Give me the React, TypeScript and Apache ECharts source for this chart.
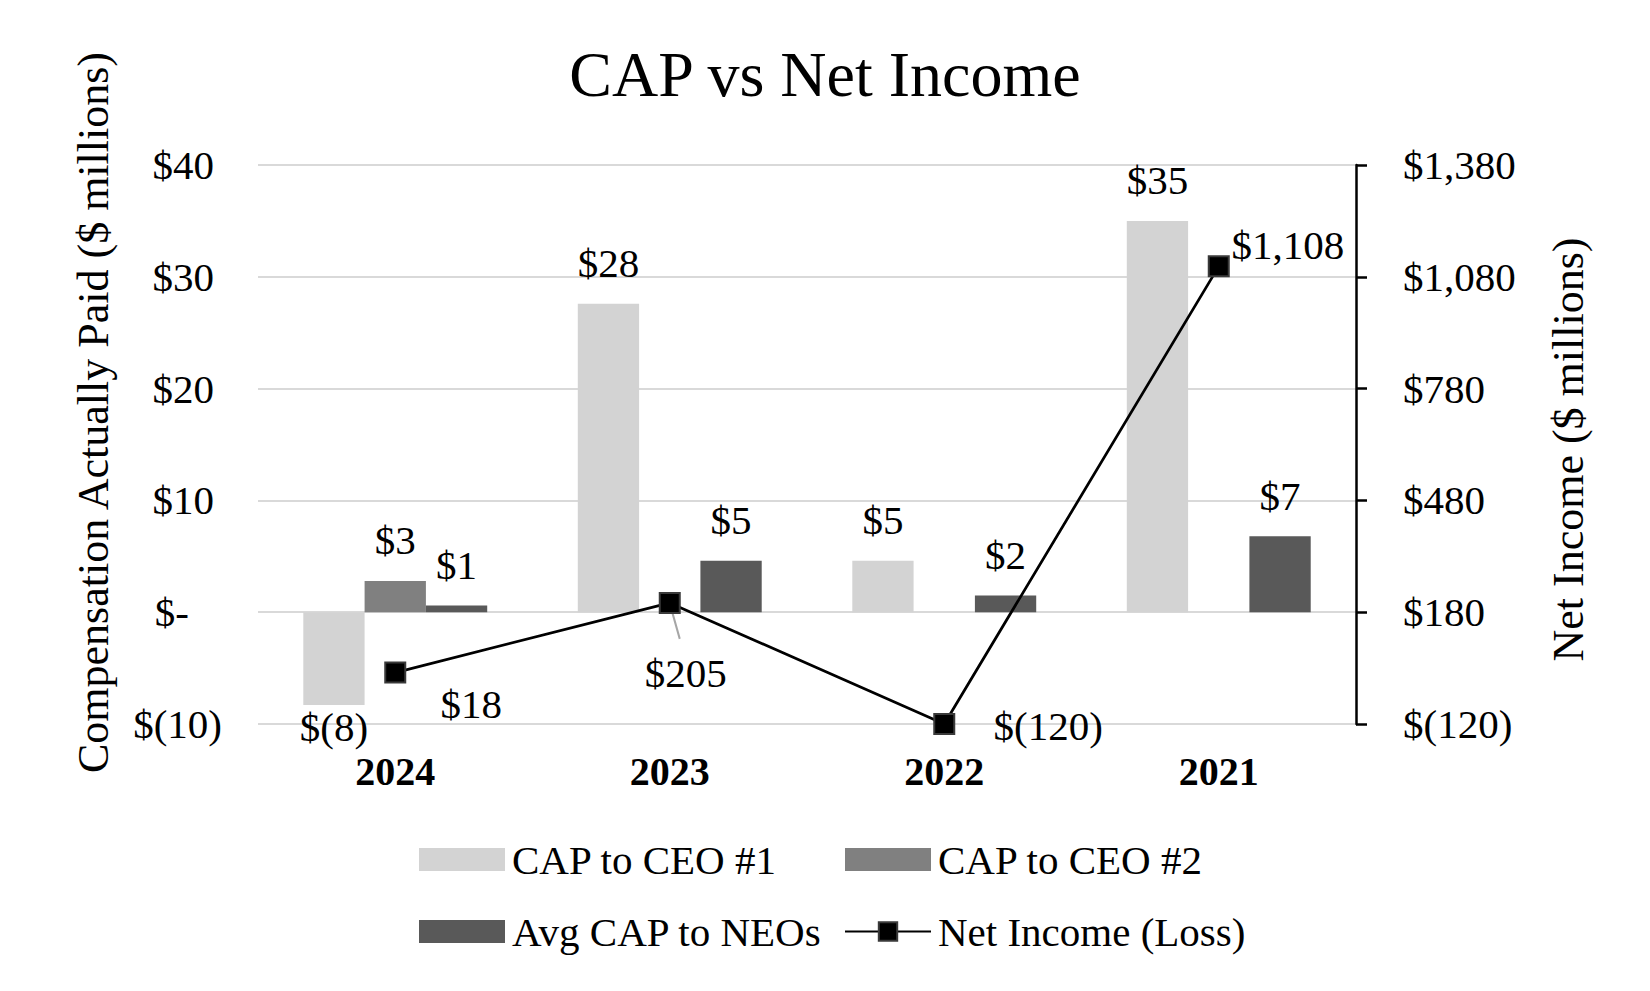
import React, { useEffect, useRef } from "react";
import * as echarts from "echarts";

const categories = ["2024", "2023", "2022", "2021"];
const capCeo1 = [-8.3, 27.6, 4.6, 35.0];
const capCeo2 = [2.8, null, null, null];
const avgCapNeos = [0.6, 4.6, 1.5, 6.8];
const netIncome = [18, 205, -120, 1108];
const seriesNames = ["CAP to CEO #1", "CAP to CEO #2", "Avg CAP to NEOs", "Net Income (Loss)"];
const leftMin = -10;
const leftMax = 40;
const leftInterval = 10;
const rightMin = -120;
const rightMax = 1380;

const FONT = "'Liberation Serif', 'Times New Roman', serif";
const niLabelOffsets = [
  [76, 31],
  [16, 70],
  [104, 2],
  [69, -21],
];
const leaderIndex = 1;

const fmtMoney = (v: number) => {
  const a = Math.abs(v).toLocaleString("en-US");
  return v < 0 ? `$(${a})` : `$${a}`;
};

const barLabelFmt = (p: any) => {
  const v = Number(p.value);
  const r = Math.round(Math.abs(v));
  return v < 0 ? `$(${r})` : `$${r}`;
};

const barData = (arr: (number | null)[]) =>
  arr.map((v) =>
    v == null
      ? null
      : {
          value: v,
          label: { position: v < 0 ? "bottom" : "top", distance: v < 0 ? 2 : 20 },
        }
  );

export default function App() {
  const ref = useRef<HTMLDivElement>(null);
  useEffect(() => {
    if (!ref.current) return;
    const chart = echarts.init(ref.current, null, { renderer: "svg" });
    const baseText = { fontFamily: FONT, color: "#000", fontSize: 41, lineHeight: 41 };
    const barLabel = {
      show: true,
      formatter: barLabelFmt,
      ...baseText,
    };
    const option: any = {
      animation: false,
      backgroundColor: "#fff",
      title: {
        text: "CAP vs Net Income",
        left: "center",
        top: 37,
        textStyle: { fontFamily: FONT, color: "#000", fontSize: 64, fontWeight: "normal", lineHeight: 64 },
      },
      grid: { left: 258, right: 294, top: 165, bottom: 267, containLabel: false },
      legend: [
        {
          orient: "vertical",
          left: 414,
          top: 834,
          itemWidth: 86,
          itemHeight: 23,
          itemGap: 31,
          textStyle: { ...baseText, padding: [0, 0, 0, 2] },
          data: [
            { name: seriesNames[0], icon: "rect" },
            { name: seriesNames[2], icon: "rect" },
          ],
        },
        {
          orient: "vertical",
          left: 839,
          top: 834,
          itemWidth: 86,
          itemHeight: 23,
          itemGap: 31,
          textStyle: { ...baseText, padding: [0, 0, 0, 2] },
          data: [{ name: seriesNames[1], icon: "rect" }, { name: seriesNames[3] }],
        },
      ],
      xAxis: {
        type: "category",
        data: categories,
        axisLine: { show: false, onZero: false },
        axisTick: { show: false },
        axisLabel: { fontFamily: FONT, color: "#000", fontSize: 40, fontWeight: "bold", lineHeight: 40, margin: 27 },
      },
      yAxis: [
        {
          type: "value",
          min: leftMin,
          max: leftMax,
          interval: leftInterval,
          name: "Compensation Actually Paid ($ millions)",
          nameLocation: "middle",
          nameRotate: 90,
          nameGap: 143,
          nameTextStyle: { fontFamily: FONT, color: "#000", fontSize: 44, lineHeight: 44, padding: [0, 0, 0, 64] },
          axisLine: { show: false },
          axisTick: { show: false },
          splitLine: { show: true, lineStyle: { color: "#d9d9d9", width: 2 } },
          axisLabel: {
            margin: 36,
            fontFamily: FONT,
            color: "#000",
            fontSize: 41,
            formatter: (v: number) => {
              if (v === 0) return "{z|$-}";
              if (v < 0) return `{n|$(${Math.abs(v)})}`;
              return `{p|$${v}}`;
            },
            rich: {
              z: { fontFamily: FONT, color: "#000", fontSize: 41, padding: [0, 33, 0, 0] },
              n: { fontFamily: FONT, color: "#000", fontSize: 41 },
              p: { fontFamily: FONT, color: "#000", fontSize: 41, padding: [0, 8, 0, 0] },
            },
          },
        },
        {
          type: "value",
          min: rightMin,
          max: rightMax,
          alignTicks: true,
          position: "right",
          name: "Net Income ($ millions)",
          nameLocation: "middle",
          nameRotate: 90,
          nameGap: 190,
          nameTextStyle: { fontFamily: FONT, color: "#000", fontSize: 44, lineHeight: 44, padding: [0, 10, 0, 0] },
          axisLine: { show: true, lineStyle: { color: "#000", width: 2.5 } },
          axisTick: { show: true, inside: false, length: 11, lineStyle: { color: "#000", width: 2.5 } },
          splitLine: { show: false },
          axisLabel: {
            margin: 47,
            fontFamily: FONT,
            color: "#000",
            fontSize: 41,
            formatter: (v: number) => fmtMoney(v),
          },
        },
      ],
      series: [
        {
          name: seriesNames[0],
          type: "bar",
          data: barData(capCeo1),
          itemStyle: { color: "#d3d3d3" },
          barGap: "0%",
          barCategoryGap: "33%",
          label: barLabel,
        },
        {
          name: seriesNames[1],
          type: "bar",
          data: barData(capCeo2),
          itemStyle: { color: "#808080" },
          barGap: "0%",
          barCategoryGap: "33%",
          label: barLabel,
        },
        {
          name: seriesNames[2],
          type: "bar",
          data: barData(avgCapNeos),
          itemStyle: { color: "#595959" },
          barGap: "0%",
          barCategoryGap: "33%",
          label: barLabel,
        },
        {
          name: seriesNames[3],
          type: "line",
          yAxisIndex: 1,
          z: 10,
          symbol: "rect",
          symbolSize: 20,
          lineStyle: { color: "#000", width: 2.75 },
          itemStyle: { color: "#000", borderColor: "#3a3a3a", borderWidth: 2 },
          label: {
            show: true,
            position: "inside",
            formatter: (p: any) => fmtMoney(Number(p.value)),
            ...baseText,
          },
          data: netIncome.map((v, i) => ({
            value: v,
            label: { offset: niLabelOffsets[i] },
          })),
        },
      ],
    };
    chart.setOption(option);
    // leader line for the 2023 net income label, anchored via the chart's own scales
    const pt = chart.convertToPixel({ xAxisIndex: 0, yAxisIndex: 1 } as any, [
      categories[leaderIndex],
      netIncome[leaderIndex],
    ]) as number[];
    if (pt && isFinite(pt[0]) && isFinite(pt[1])) {
      chart.setOption({
        graphic: [
          {
            type: "line",
            z: 5,
            shape: { x1: pt[0] + 1, y1: pt[1] + 4, x2: pt[0] + 10, y2: pt[1] + 36 },
            style: { stroke: "#a6a6a6", lineWidth: 2 },
          },
        ],
      });
    }
    return () => chart.dispose();
  }, []);
  return (
    <div
      ref={ref}
      style={{ position: "absolute", left: 0, top: 0, width: 1650, height: 991, background: "#fff" }}
    />
  );
}
